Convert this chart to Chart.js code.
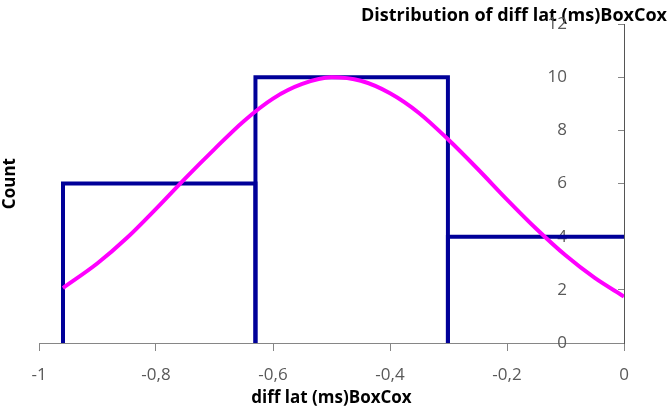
<!DOCTYPE html>
<html>
<head>
<meta charset="utf-8">
<script src="https://cdn.jsdelivr.net/npm/chart.js@4"></script>
<style>
    html, body { margin: 0; padding: 0; background: #ffffff; }
    #wrap { width: 669px; height: 408px; }
</style>
</head>
<body>
<div id="wrap"><canvas id="histogram"></canvas></div>
<script>
// histogram bins (edges) and counts
const binEdges = [-0.959, -0.63, -0.301, 0.028];
const binCounts = [6, 10, 4];

// fitted normal curve
const curveX = [-0.959, -0.9, -0.85, -0.8, -0.75, -0.7, -0.65, -0.6, -0.55, -0.5, -0.45, -0.4, -0.35, -0.3, -0.25, -0.2, -0.15, -0.1, -0.05, 0];
const curveY = [2.07, 3.0, 3.95, 5.05, 6.2, 7.3, 8.35, 9.2, 9.75, 10.0, 9.87, 9.4, 8.65, 7.65, 6.55, 5.4, 4.3, 3.3, 2.45, 1.75];

const xTicks = [-1, -0.8, -0.6, -0.4, -0.2, 0];
const yTicks = [0, 2, 4, 6, 8, 10, 12];

const barColor = '#000099';
const curveColor = '#ff00ff';
const axisColor = '#868686';
const tickColor = '#595959';

const curvePoints = curveX.map((x, i) => ({ x: x, y: curveY[i] }));

const datasets = [{
    label: 'Normal',
    data: curvePoints,
    borderColor: curveColor,
    borderWidth: 4,
    pointRadius: 0,
    cubicInterpolationMode: 'monotone',
    order: 0
}];

binCounts.forEach((count, i) => {
    datasets.push({
        label: 'Bin ' + (i + 1),
        data: [
            { x: binEdges[i], y: 0 },
            { x: binEdges[i], y: count },
            { x: binEdges[i + 1], y: count },
            { x: binEdges[i + 1], y: 0 }
        ],
        borderColor: barColor,
        borderWidth: 4,
        borderJoinStyle: 'miter',
        pointRadius: 0,
        tension: 0,
        order: 1
    });
});

const fmt = (v) => String(Math.round(v * 10) / 10).replace('.', ',');

const context = document.getElementById('histogram').getContext('2d');

new Chart(context, {
    type: 'line',
    data: { datasets: datasets },
    options: {
        responsive: true,
        maintainAspectRatio: false,
        animation: false,
        layout: { padding: { left: 0, right: 2, top: 0, bottom: 0 } },
        plugins: {
            legend: { display: false },
            tooltip: { enabled: false },
            title: {
                display: true,
                text: 'Distribution of diff lat (ms)BoxCox',
                align: 'end',
                color: '#000000',
                font: { family: 'Open Sans', size: 18, weight: 'bold', lineHeight: 0.9 },
                padding: { top: 8, bottom: 0 }
            }
        },
        scales: {
            x: {
                type: 'linear',
                position: 'bottom',
                min: -1,
                max: 0,
                afterBuildTicks: (scale) => { scale.ticks = xTicks.map(v => ({ value: v })); },
                afterFit: (scale) => { scale.height = 65; },
                ticks: {
                    color: tickColor,
                    font: { family: 'Open Sans', size: 17 },
                    padding: 14,
                    callback: (v) => fmt(v)
                },
                grid: { drawOnChartArea: false, drawTicks: true, tickLength: 8, color: axisColor },
                border: { display: true, color: axisColor, width: 1 },
                title: {
                    display: true,
                    text: 'diff lat (ms)BoxCox',
                    color: '#000000',
                    font: { family: 'Open Sans', size: 17, weight: 'bold' },
                    padding: { top: 0, bottom: 0 }
                }
            },
            y: {
                type: 'linear',
                position: 'right',
                min: 0,
                max: 12,
                afterBuildTicks: (scale) => { scale.ticks = yTicks.map(v => ({ value: v })); },
                afterFit: (scale) => { scale.width = 43; },
                ticks: {
                    mirror: true,
                    crossAlign: 'near',
                    color: tickColor,
                    font: { family: 'Open Sans', size: 17 },
                    padding: -57,
                    callback: (v) => fmt(v)
                },
                grid: { drawOnChartArea: false, drawTicks: true, tickLength: -6, color: axisColor },
                border: { display: true, color: '#555555', width: 1 }
            },
            yLeft: {
                type: 'linear',
                position: 'left',
                min: 0,
                max: 12,
                afterFit: (scale) => { scale.width = 39; },
                ticks: { display: false },
                grid: { display: false, drawTicks: false },
                border: { display: false },
                title: {
                    display: true,
                    text: 'Count',
                    color: '#000000',
                    font: { family: 'Open Sans', size: 17, weight: 'bold' },
                    padding: { top: 0, bottom: 0 }
                }
            }
        }
    }
});
</script>
</body>
</html>
